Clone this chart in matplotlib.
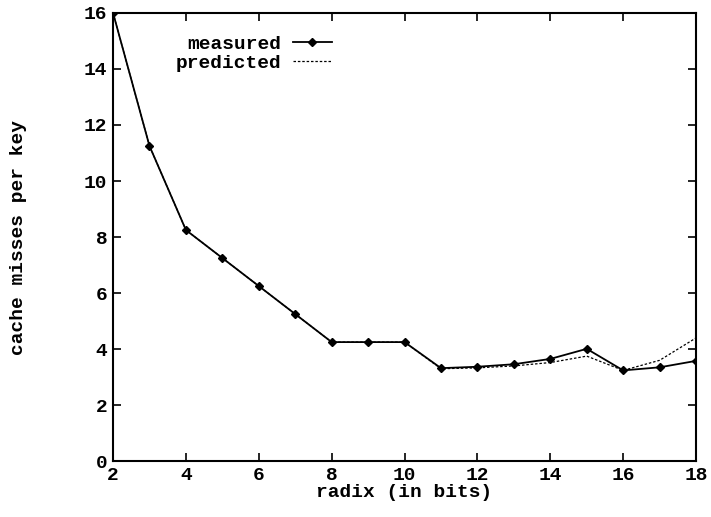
import matplotlib
matplotlib.use('Agg')
import matplotlib.pyplot as plt

radix = [2, 3, 4, 5, 6, 7, 8, 9, 10, 11, 12, 13, 14, 15, 16, 17, 18]
measured = [16.0, 11.25, 8.25, 7.25, 6.25, 5.25, 4.25, 4.25, 4.25, 3.32, 3.37, 3.46, 3.65, 4.01, 3.24, 3.35, 3.58]
predicted = [16.0, 11.25, 8.25, 7.25, 6.25, 5.25, 4.25, 4.25, 4.25, 3.30, 3.33, 3.40, 3.52, 3.75, 3.24, 3.60, 4.40]

plt.rcParams['font.family'] = 'Liberation Mono'
plt.rcParams['font.weight'] = 'bold'

fig = plt.figure(figsize=(7.11, 5.17), dpi=100)
ax = fig.add_axes([0.159, 0.108, 0.820, 0.867])

ax.plot(radix, predicted, color='black', linestyle=(0, (2, 1.5)), linewidth=0.9, label='predicted', zorder=2)
ax.plot(radix, measured, color='black', linewidth=1.3, marker='D', markersize=4.5, label='measured', zorder=3)

ax.set_xlim(2, 18)
ax.set_ylim(0, 16)
ax.set_xticks(range(2, 19, 2))
ax.set_yticks(range(0, 17, 2))
ax.tick_params(direction='in', top=True, right=True, length=6, width=1.2, labelsize=14, pad=4)
for s in ax.spines.values():
    s.set_linewidth(1.5)

ax.set_xlabel('radix (in bits)', fontsize=14, fontweight='bold', labelpad=0)
ax.set_ylabel('cache misses per key', fontsize=14, fontweight='bold', labelpad=41)

h, l = ax.get_legend_handles_labels()
ax.legend(h[::-1], l[::-1], loc='upper right', bbox_to_anchor=(0.405, 0.99), frameon=False,
          markerfirst=False, fontsize=14, handlelength=2.0, labelspacing=0.1, handletextpad=0.6)

fig.savefig('out.png', dpi=100)
